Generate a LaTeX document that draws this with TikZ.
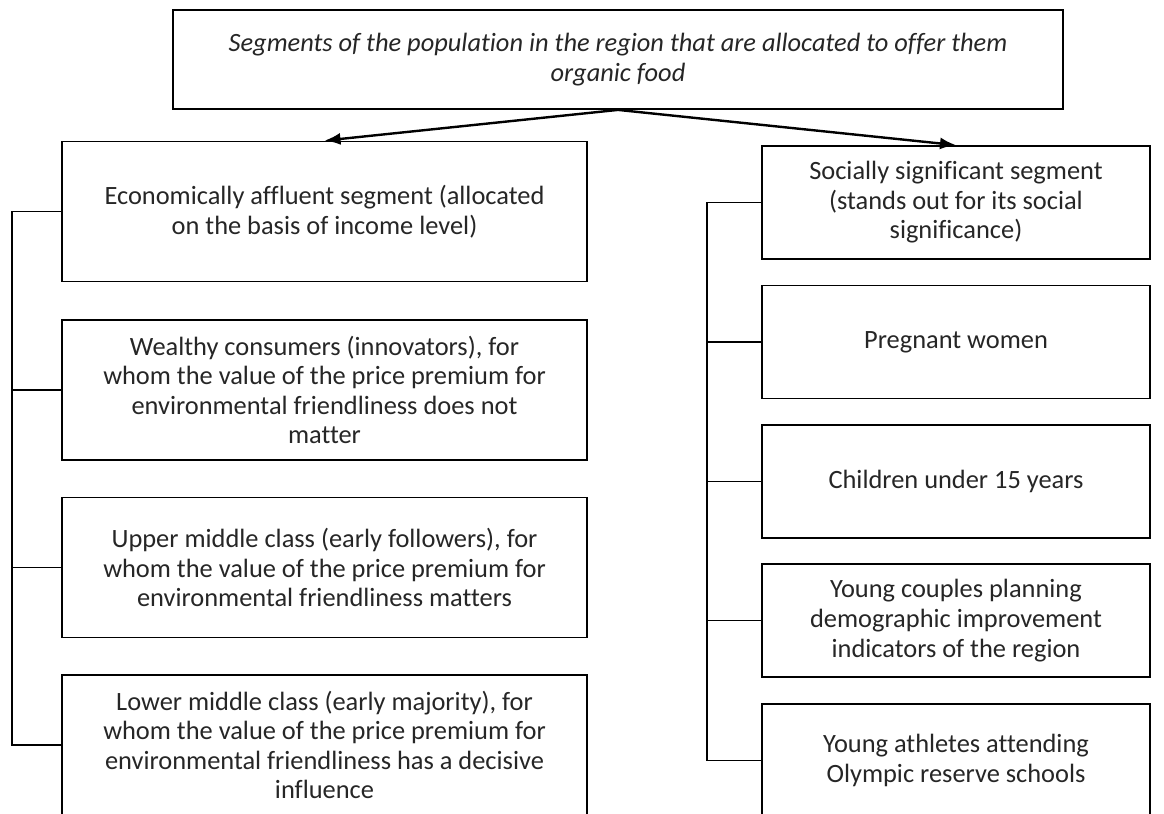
\documentclass[tikz,border=0pt]{standalone}
\usepackage{fontspec}
\setmainfont{Carlito}[Ligatures={NoCommon}]
\usepackage{tikz}
\usetikzlibrary{arrows.meta}

\begin{document}
\begin{tikzpicture}[x=0.5pt,y=-0.5pt,
  segbox/.style={draw,line width=0.9pt,align=center,inner sep=0pt,
    font=\fontsize{13.2pt}{14.8pt}\selectfont,text=black!85},
  leftbox/.style={segbox,minimum width=262.5pt,minimum height=70pt},
  rightbox/.style={segbox,minimum width=194pt,minimum height=56.5pt},
  link/.style={line width=0.9pt},
  toarrow/.style={line width=1.2pt,-{Latex[length=8pt,width=6pt]}}]
\useasboundingbox (0,0) rectangle (1164,814);
\clip (0,0) rectangle (1164,814);
\fill[white] (0,0) rectangle (1164,814);
% head box
\node[segbox,minimum width=445pt,minimum height=49.5pt,font=\fontsize{13.2pt}{14.8pt}\selectfont\itshape]
  (top) at (618,59.5) {Segments of the population in the region that are allocated to offer them\\organic food};
% left column
\node[leftbox] (econ) at (324.5,211.5) {Economically affluent segment (allocated\\on the basis of income level)};
\node[leftbox] (wealthy) at (324.5,390) {Wealthy consumers (innovators), for\\whom the value of the price premium for\\environmental friendliness does not\\matter};
\node[leftbox] (upper) at (324.5,567.5) {Upper middle class (early followers), for\\whom the value of the price premium for\\environmental friendliness matters};
\node[leftbox] (lower) at (324.5,745) {Lower middle class (early majority), for\\whom the value of the price premium for\\environmental friendliness has a decisive\\influence};
% right column
\node[rightbox] (social) at (956,202.5) {Socially significant segment\\(stands out for its social\\significance)};
\node[rightbox] (pregnant) at (956,342) {Pregnant women};
\node[rightbox] (children) at (956,481.5) {Children under 15 years};
\node[rightbox] (couples) at (956,620.5) {Young couples planning\\demographic improvement\\indicators of the region};
\node[rightbox] (athletes) at (956,760.5) {Young athletes attending\\Olympic reserve schools};
% trunks
\coordinate (trunkL) at (12,0);
\coordinate (trunkR) at (707,0);
\draw[link] (econ.west) -- (econ.west -| trunkL) -- (lower.west -| trunkL) -- (lower.west);
\draw[link] (wealthy.west -| trunkL) -- (wealthy.west);
\draw[link] (upper.west -| trunkL) -- (upper.west);
\draw[link] (social.west) -- (social.west -| trunkR) -- (athletes.west -| trunkR) -- (athletes.west);
\draw[link] (pregnant.west -| trunkR) -- (pregnant.west);
\draw[link] (children.west -| trunkR) -- (children.west);
\draw[link] (couples.west -| trunkR) -- (couples.west);
% arrows
\draw[toarrow] (top.south) -- (econ.north);
\draw[toarrow] (top.south) -- (social.north);
\end{tikzpicture}
\end{document}
